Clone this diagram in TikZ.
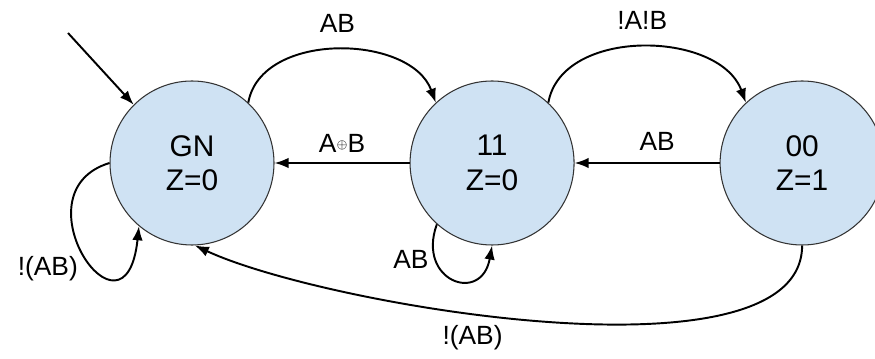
\documentclass[tikz,border=0pt]{standalone}
\usepackage{fontspec}
\setmainfont{Liberation Sans}
\usetikzlibrary{positioning,arrows.meta}
\definecolor{statefill}{HTML}{CFE2F3}

\begin{document}
\begin{tikzpicture}[-{Latex[length=8pt,width=6pt]},auto,node distance=2.7cm,line width=1.1pt,
                    state node/.style={circle,draw=black!80,line width=0.6pt,fill=statefill,
                        minimum size=3.28cm,inner sep=0pt,align=center,font=\fontsize{17}{19.5}\selectfont}]

    \useasboundingbox (0,0) rectangle (17.5,7.16);

    \node[state node] (GN) at (3.84,3.90) {GN\\Z=0};
    \node[state node] (11) [right=of GN] {11\\Z=0};
    \node[state node] (00) [right=2.9cm of 11] {00\\Z=1};
    \coordinate (start) at (1.36,6.50);

    \path[every node/.style={font=\fontsize{15}{17}\selectfont}]
        (start) edge (GN.135)
        (GN.47) edge[out=80,in=110] node[above=6pt] {AB} (11.133)
        (11.47) edge[out=80,in=110] node[above=6pt] {!A!B} (00.133)
        (11) edge node[above=2pt] {A\raisebox{2.5pt}{\scriptsize$\oplus$}B} (GN)
        (00) edge node[above=3pt,pos=0.43] {AB} (11)
        (GN.180) edge[out=197,in=264,out distance=2cm,in distance=2.6cm]
            node[left=6pt,pos=0.6] {!(AB)} (GN.230)
        (11.228) edge[out=250,in=260,looseness=2.6] node[left,pos=0.25] {AB} (11.270)
        (00.270) edge[out=270,in=-25,looseness=0.6] node[below=3pt,pos=0.59] {!(AB)} (GN.272);

\end{tikzpicture}
\end{document}
